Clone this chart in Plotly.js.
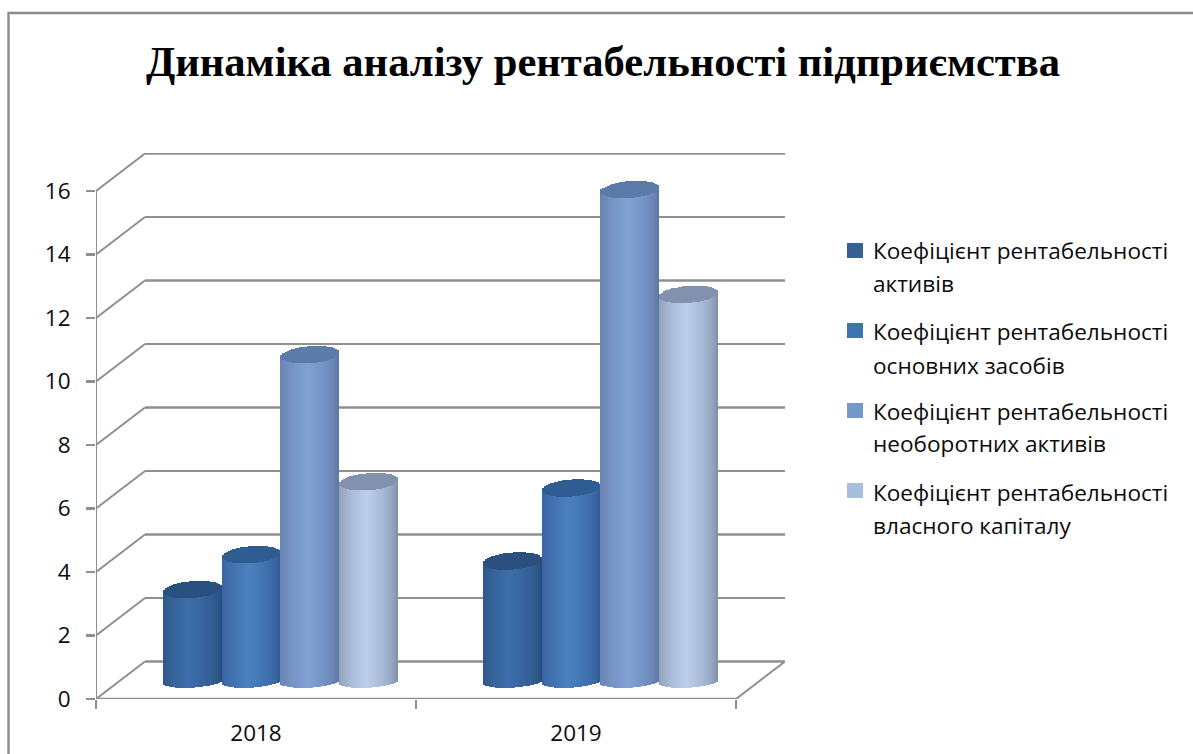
<!DOCTYPE html>
<html lang="uk">
<head>
<meta charset="utf-8">
<script src="https://cdn.plot.ly/plotly-3.0.1.min.js"></script>
<style>html,body{margin:0;padding:0;background:#fff}#chart{width:1193px;height:754px}</style>
</head>
<body>
<div id="chart"></div>
<script>
// Рентабельність підприємства, %
const years = ['2018', '2019'];
const activesRatio = [2.9, 3.8];
const fixedAssetsRatio = [4.0, 6.1];
const nonCurrentRatio = [10.3, 15.5];
const equityRatio = [6.3, 12.2];
const yTicks = [0, 2, 4, 6, 8, 10, 12, 14, 16];

const seriesValues = [activesRatio, fixedAssetsRatio, nonCurrentRatio, equityRatio];
const legendLines = [
  ['Коефіцієнт рентабельності', 'активів'],
  ['Коефіцієнт рентабельності', 'основних засобів'],
  ['Коефіцієнт рентабельності', 'необоротних активів'],
  ['Коефіцієнт рентабельності', 'власного капіталу']
];

// Кольори циліндрів: край, середина, верхня кришка, позначка легенди
const edgeColors = ['#234877', '#2b5690', '#586f9b', '#77839b'];
const midColors = ['#3d6ea9', '#4b7fbe', '#82a2d5', '#bccfec'];
const capColors = ['#29507f', '#2f5d92', '#5b7ba8', '#8191ae'];
const swatchColors = ['#355f95', '#3f74b2', '#7598cb', '#a7bfde'];
const gridColor = '#8f8f8f';

// Геометрія графіка у пікселях сторінки
const W = 1193, H = 754;
const plotL = 96, plotR = 785, plotT = 153, plotB = 699;
const pxPerX = 320, pxPerY = 31.75;
const xEnd = 2;
const depthX = 49 / pxPerX, depthY = 37.5 / pxPerY;
const xRange = [0, (plotR - plotL) / pxPerX];
const yRange = [0, (plotB - plotT) / pxPerY];

// Розташування циліндрів у групі
const barWidth = 58.8 / pxPerX;
const groupShift = depthX / 2;
const floorLift = 0.545;
const strips = 29;
const capHalf = 8.5 / pxPerY, capTilt = 2.2 / pxPerY;
const footHalf = 6 / pxPerY, footTilt = 1.7 / pxPerY;

const hex = s => [1, 3, 5].map(i => parseInt(s.slice(i, i + 2), 16));
function shade(a, b, f) {
  const p = hex(a), q = hex(b);
  return 'rgb(' + p.map((v, i) => Math.round(v + (q[i] - v) * f)).join(',') + ')';
}

const traces = [];
seriesValues.forEach((values, s) => {
  const body = { x: [], y: [], base: [], color: [] };
  const cap = { x: [], y: [], base: [], color: [] };
  values.forEach((v, g) => {
    const centre = g + 0.5 + groupShift + (s - 1.5) * barWidth;
    for (let i = 0; i < strips; i++) {
      const t = (i + 0.5) / strips * 2 - 1;
      const round = Math.sqrt(1 - t * t);
      const x = centre + t * barWidth / 2;
      const foot = floorLift + footTilt * t - footHalf * round;
      const topMid = floorLift + v + capTilt * t;
      body.x.push(x);
      body.base.push(foot);
      body.y.push(topMid - foot);
      // Світла смуга трохи ліворуч від осі циліндра
      const light = Math.pow(Math.max(0, 1 - Math.abs(t + 0.08) / 1.08), 0.5);
      body.color.push(shade(edgeColors[s], midColors[s], light));
      cap.x.push(x);
      cap.base.push(topMid - capHalf * round);
      cap.y.push(2 * capHalf * round);
      cap.color.push(capColors[s]);
    }
  });
  const w = barWidth / strips * 1.04;
  [body, cap].forEach(part => traces.push({
    type: 'bar', x: part.x, y: part.y, base: part.base, width: w,
    marker: { color: part.color, line: { width: 0 } },
    showlegend: false, hoverinfo: 'skip'
  }));
});

// Стінки, підлога та осі
const shapes = [];
const seg = (x0, y0, x1, y1, width) => shapes.push({
  type: 'line', xref: 'x', yref: 'y', x0, y0, x1, y1, layer: 'below',
  line: { color: gridColor, width: width || 2 }
});
yTicks.forEach(v => {
  if (v > 0) {
    seg(0, v, depthX, v + depthY);
    seg(depthX, v + depthY, xEnd + depthX, v + depthY, v % 4 === 0 ? 2.6 : 2);
  }
});
seg(0, 0, depthX, depthY);
seg(depthX, depthY, xEnd + depthX, depthY, 2.6);
seg(xEnd + depthX, depthY, xEnd, 0);
seg(0, 0, xEnd, 0, 2.6);
seg(0, 0, 0, yTicks[yTicks.length - 1]);

const pxX = p => (p - plotL) / (plotR - plotL);
const pxY = p => (plotB - p) / (plotB - plotT);

// Зовнішня рамка
shapes.push({
  type: 'path', xref: 'paper', yref: 'paper', layer: 'below',
  path: 'M' + pxX(8.5) + ' ' + pxY(H + 4) + ' L' + pxX(8.5) + ' ' + pxY(13) + ' L' + pxX(W + 4) + ' ' + pxY(13),
  line: { color: '#8c8c8c', width: 2.4 }
});

// Легенда у два рядки на кожен показник
const legendFont = { family: '"Open Sans", sans-serif', size: 22.6, color: '#0c0c0c' };
const swatchTop = [243, 323, 403, 483];
const firstLine = [250, 331, 411.5, 492];
const secondLine = [283, 365, 443, 525];
const annotations = [];
legendLines.forEach((lines, s) => {
  shapes.push({
    type: 'rect', xref: 'paper', yref: 'paper',
    x0: pxX(847), x1: pxX(863), y0: pxY(swatchTop[s]), y1: pxY(swatchTop[s] + 15),
    fillcolor: swatchColors[s], line: { width: 0 }
  });
  [firstLine[s], secondLine[s]].forEach((cy, k) => annotations.push({
    xref: 'paper', yref: 'paper', x: pxX(871), y: pxY(cy),
    xanchor: 'left', yanchor: 'middle', showarrow: false,
    text: lines[k], font: legendFont
  }));
});

const layout = {
  width: W, height: H,
  margin: { l: plotL, r: W - plotR, t: plotT, b: H - plotB, pad: 0 },
  paper_bgcolor: '#fff', plot_bgcolor: '#fff',
  barmode: 'overlay', bargap: 0,
  showlegend: false,
  title: {
    text: 'Динаміка аналізу рентабельності підприємства',
    font: { family: '"Liberation Serif", serif', size: 42.6, weight: 700, color: '#000' },
    x: 603 / W, xanchor: 'center', xref: 'container',
    y: 1 - 61 / H, yanchor: 'middle', yref: 'container'
  },
  xaxis: {
    range: xRange, showgrid: false, zeroline: false, showline: false,
    tickmode: 'array', tickvals: [0.5, 1.5], ticktext: years,
    ticks: '', tickfont: { family: '"Open Sans", sans-serif', size: 22.5, color: '#0c0c0c' },
    ticklabelstandoff: 18,
    minor: { tickmode: 'array', tickvals: [0, 1, 2], ticks: 'outside', ticklen: 9, tickwidth: 2.4, tickcolor: gridColor, showgrid: false }
  },
  yaxis: {
    range: yRange, showgrid: false, zeroline: false, showline: false,
    tickmode: 'array', tickvals: yTicks, ticks: 'outside', ticklen: 9, tickwidth: 2.4, tickcolor: gridColor,
    ticklabelstandoff: 11,
    tickfont: { family: '"Open Sans", sans-serif', size: 22.5, color: '#0c0c0c' }
  },
  shapes, annotations
};

Plotly.newPlot('chart', traces, layout, { staticPlot: true, displayModeBar: false });
</script>
</body>
</html>
